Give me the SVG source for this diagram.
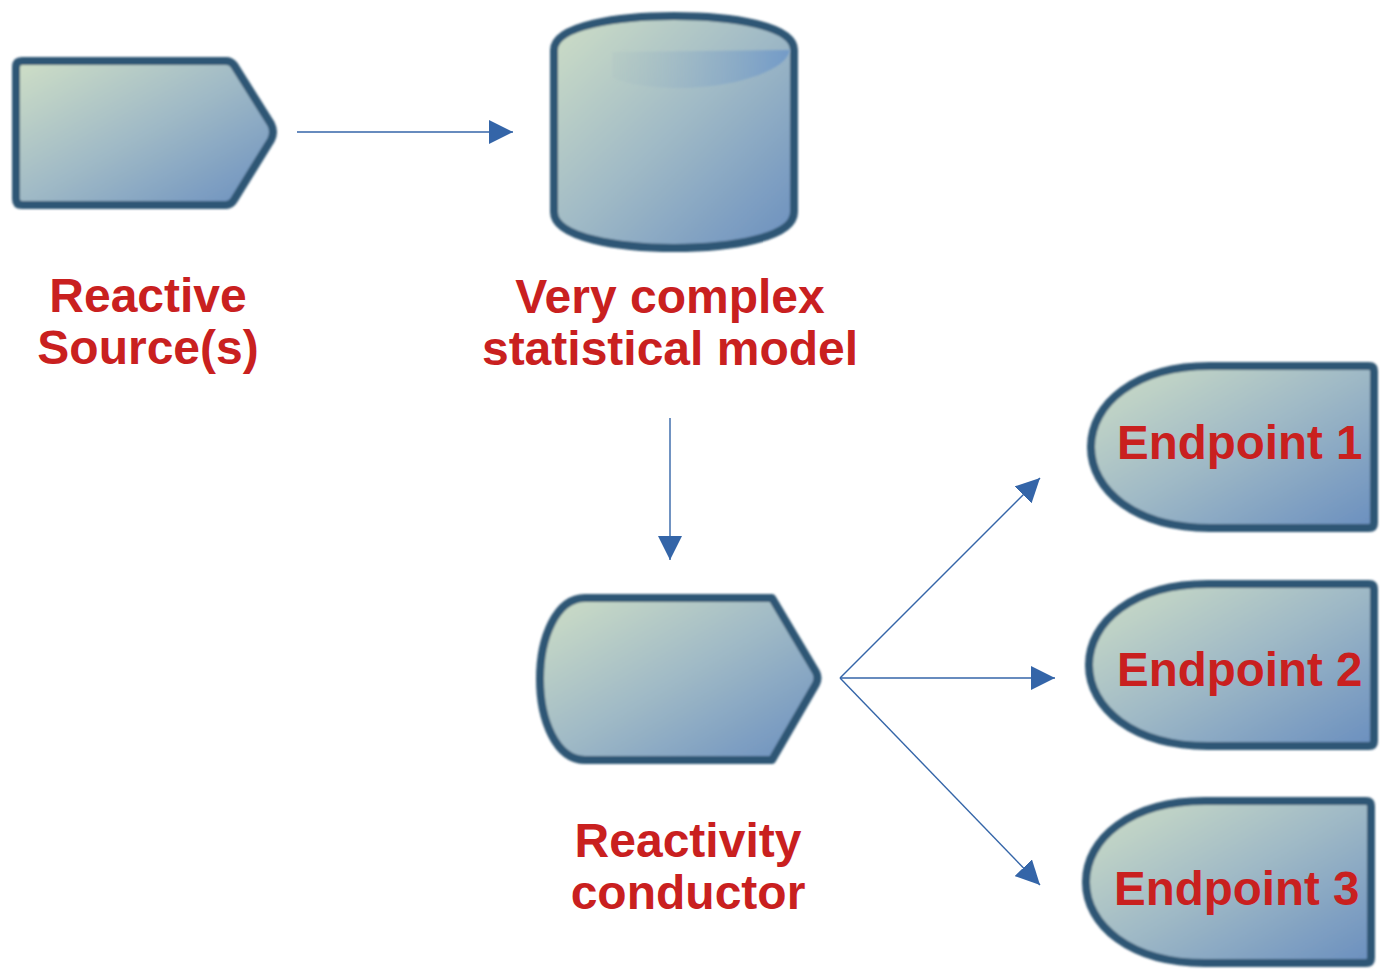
<svg xmlns="http://www.w3.org/2000/svg" width="1390" height="971" viewBox="0 0 1390 971">
<defs>
<linearGradient id="g" x1="0" y1="0" x2="1" y2="1">
<stop offset="0" stop-color="#cfdfc6"/>
<stop offset="0.5" stop-color="#9fb9c6"/>
<stop offset="1" stop-color="#6a8fbf"/>
</linearGradient>
<linearGradient id="hl" x1="0" y1="0" x2="1" y2="0">
<stop offset="0" stop-color="#a9c0c4" stop-opacity="0.2"/>
<stop offset="1" stop-color="#6f98c8" stop-opacity="0.9"/>
</linearGradient>
<filter id="soft" x="-5%" y="-5%" width="110%" height="110%">
<feGaussianBlur stdDeviation="0.9"/>
</filter>
<marker id="ah" markerUnits="userSpaceOnUse" markerWidth="24" markerHeight="24" viewBox="0 0 22 22" refX="22" refY="11" orient="auto">
<path d="M0,0 L22,11 L0,22 Z" fill="#3465a8"/>
</marker>
</defs>
<style>
.shape{fill:url(#g);stroke:#2f5674;stroke-width:8;stroke-linejoin:round;filter:url(#soft)}
.lbl{font-family:"Liberation Sans",Arial,sans-serif;font-weight:bold;font-size:48px;fill:#c9201f}
.ep{font-size:47.5px}
.con{stroke:#3465a8;stroke-width:1.4;fill:none;marker-end:url(#ah)}
</style>
<rect width="1390" height="971" fill="#ffffff"/>
<g id="reactive-source">
<path class="shape" d="M22,61 L226,61 Q231,61 234,65 L271,124 Q275,132 271,140 L234,200 Q231,205 226,205 L22,205 Q16,205 16,199 L16,67 Q16,61 22,61 Z"/>
<text class="lbl" x="148" y="312" text-anchor="middle">Reactive</text>
<text class="lbl" x="148" y="364" text-anchor="middle">Source(s)</text>
</g>
<g id="statistical-model">
<path class="shape" d="M554,50 C554,25 620,16 674,16 C730,16 794,25 794,50 L794,212 C794,238 730,248 674,248 C620,248 554,238 554,212 Z"/>
<path d="M612,52 L790,50 C786,72 730,88 680,88 C645,88 615,82 612,76 Z" fill="url(#hl)" filter="url(#soft)"/>
<text class="lbl" x="670" y="313" text-anchor="middle">Very complex</text>
<text class="lbl" x="670" y="365" text-anchor="middle">statistical model</text>
</g>
<g id="reactivity-conductor">
<path class="shape" d="M585,598 L772,598 L816,672 Q819,678 816,684 L772,760 L585,760 C556,760 540,720 540,679 C540,638 556,598 585,598 Z"/>
<text class="lbl" x="688" y="857" text-anchor="middle">Reactivity</text>
<text class="lbl" x="688" y="909" text-anchor="middle">conductor</text>
</g>
<g id="endpoint-1">
<path class="shape" d="M1210,366 L1369,366 Q1374,366 1374,371 L1374,523 Q1374,528 1369,528 L1210,528 C1135,528 1091,490 1091,447 C1091,404 1135,366 1210,366 Z"/>
<text class="lbl ep" x="1117" y="459">Endpoint 1</text>
</g>
<g id="endpoint-2">
<path class="shape" d="M1208,584 L1369,584 Q1374,584 1374,589 L1374,741 Q1374,746 1369,746 L1208,746 C1133,746 1089,708 1089,665 C1089,622 1133,584 1208,584 Z"/>
<text class="lbl ep" x="1117" y="686">Endpoint 2</text>
</g>
<g id="endpoint-3">
<path class="shape" d="M1205,801 L1366,801 Q1371,801 1371,806 L1371,958 Q1371,963 1366,963 L1205,963 C1130,963 1086,925 1086,882 C1086,839 1130,801 1205,801 Z"/>
<text class="lbl ep" x="1114" y="905">Endpoint 3</text>
</g>
<g id="connectors">
<line class="con" x1="297" y1="132" x2="513" y2="132"/>
<line class="con" x1="670" y1="418" x2="670" y2="560"/>
<line class="con" x1="840" y1="678" x2="1040" y2="478"/>
<line class="con" x1="840" y1="678" x2="1055" y2="678"/>
<line class="con" x1="840" y1="678" x2="1040" y2="885"/>
</g>
</svg>
